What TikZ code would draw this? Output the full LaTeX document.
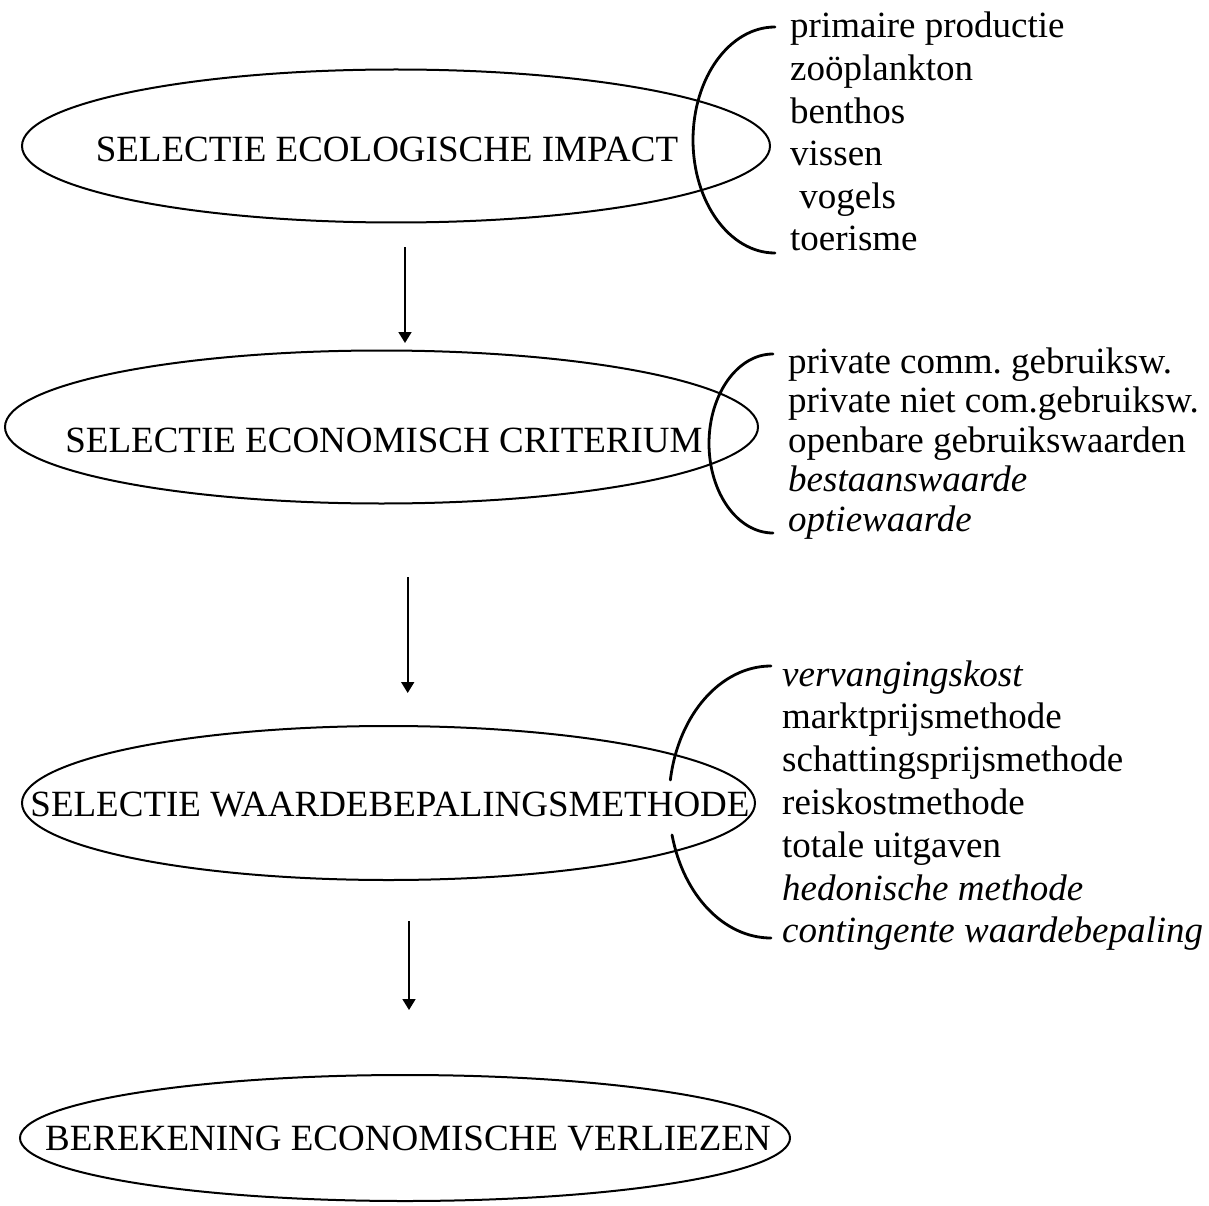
\documentclass[tikz,border=0pt]{standalone}
\usepackage{fontspec}
\setmainfont{Liberation Serif}
\usetikzlibrary{shapes.geometric,arrows.meta}
\frenchspacing
\begin{document}
\begin{tikzpicture}[x=1pt,y=-1pt,
  stage/.style={draw,ellipse,line width=2pt,inner sep=0pt},
  caption/.style={inner sep=0pt,font=\fontsize{37}{44}\selectfont},
  item/.style={anchor=base west,inner sep=0pt,font=\fontsize{37}{44}\selectfont},
  brace/.style={line width=2.8pt,line cap=round},
  flow/.style={line width=1.8pt,-{Triangle[width=13pt,length=11pt]}}]
\useasboundingbox (0,0) rectangle (1209,1206);

% the four stages
\node[stage,minimum width=748pt,minimum height=153pt] (e1) at (396,146) {};
\node[caption] (t1) at (387,149) {SELECTIE ECOLOGISCHE IMPACT};

\node[stage,minimum width=753pt,minimum height=153pt] (e2) at (381.5,427) {};
\node[caption] (t2) at (384,440) {SELECTIE ECONOMISCH CRITERIUM};

\node[stage,minimum width=733pt,minimum height=154pt] (e3) at (388.5,803) {};
\node[caption] (t3) at (390,805) {SELECTIE WAARDEBEPALINGSMETHODE};

\node[stage,minimum width=770pt,minimum height=126pt] (e4) at (405,1138) {};
\node[caption] (t4) at (408,1139) {BEREKENING ECONOMISCHE VERLIEZEN};

% arrows between the stages
\draw[flow] ([xshift=9pt,yshift=-24pt]e1.south) -- ([xshift=23.5pt,yshift=6.5pt]e2.north);
\draw[flow] ([xshift=26.2pt,yshift=-72.5pt]e2.south) -- ([xshift=19.2pt,yshift=32pt]e3.north);
\draw[flow] ([xshift=20.5pt,yshift=-40pt]e3.south) -- ([xshift=4pt,yshift=64pt]e4.north);

% option lists
\foreach \t [count=\i from 0] in {primaire productie, zoöplankton, benthos, vissen, \ vogels, toerisme}
  \node[item] (la\i) at (790,{38+42.6*\i}) {\t};
\foreach \t [count=\i from 0] in {private comm. gebruiksw., private niet com.gebruiksw., openbare gebruikswaarden, \textit{bestaanswaarde}, \textit{optiewaarde}}
  \node[item] (lb\i) at (788,{373+39.5*\i}) {\t};
\foreach \t [count=\i from 0] in {\textit{vervangingskost}, marktprijsmethode, schattingsprijsmethode, reiskostmethode, totale uitgaven, \textit{hedonische methode}, \textit{contingente waardebepaling}}
  \node[item] (lc\i) at (782,{686+42.8*\i}) {\t};

% braces in front of the lists
\coordinate (b1) at (775,140);
\coordinate (b2) at (773,443.5);
\coordinate (b3) at (771,802);
\draw[brace] ([shift={(90:82pt and 113pt)}]b1) arc[start angle=90,end angle=270,x radius=82pt,y radius=113pt];
\draw[brace] ([shift={(90:64pt and 89.5pt)}]b2) arc[start angle=90,end angle=270,x radius=64pt,y radius=89.5pt];
\draw[brace] ([shift={(90:102pt and 136pt)}]b3) arc[start angle=90,end angle=170.7,x radius=102pt,y radius=136pt];
\draw[brace] ([shift={(194:102pt and 136pt)}]b3) arc[start angle=194,end angle=270,x radius=102pt,y radius=136pt];
\end{tikzpicture}
\end{document}
